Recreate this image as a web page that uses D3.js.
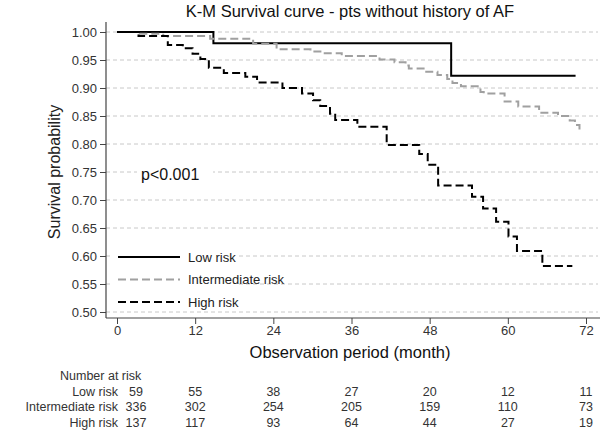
<!DOCTYPE html>
<html>
<head>
<meta charset="utf-8">
<script src="https://cdn.jsdelivr.net/npm/d3@7"></script>
<style>
  body { margin: 0; background: #fff; }
  text { font-family: "Liberation Sans", Arial, sans-serif; }
</style>
</head>
<body>
<div id="chart"></div>
<script>
/* step times (months) and survival values */
const lowTimes = [0, 14.8, 51.3];
const lowSurv = [1.000, 0.980, 0.922];
const lowEnd = 70.4;

const midTimes = [0, 3.5, 7.1, 14.3, 20.9, 24.5, 29.7, 31.6, 34.5, 40.3, 42.6, 44.3, 44.8, 47.3, 49.2,
                  50.7, 51.5, 52.8, 55.8, 56.3, 59.5, 61.6, 64.8, 67.7, 69.5, 70.3, 71.0];
const midSurv = [1.000, 0.997, 0.993, 0.988, 0.979, 0.969, 0.965, 0.962, 0.957, 0.951, 0.946, 0.940, 0.935, 0.929, 0.923,
                 0.916, 0.909, 0.903, 0.893, 0.890, 0.876, 0.867, 0.856, 0.850, 0.842, 0.834, 0.823];
const midEnd = 71.0;

const highTimes = [0, 3.3, 7.8, 10.1, 11.6, 12.8, 14.1, 16.4, 19.7, 21.5, 25.4, 28.4, 30.1, 31.2, 32.7, 33.5,
                   36.9, 41.4, 46.4, 47.7, 49.3, 54.5, 56.2, 58.2, 60.1, 61.4, 65.3];
const highSurv = [1.000, 0.993, 0.977, 0.971, 0.961, 0.952, 0.936, 0.927, 0.920, 0.910, 0.900, 0.890, 0.878, 0.868, 0.854, 0.843,
                  0.831, 0.798, 0.782, 0.763, 0.726, 0.706, 0.685, 0.661, 0.635, 0.609, 0.582];
const highEnd = 69.9;

const groupNames = ["Low risk", "Intermediate risk", "High risk"];
const xTicks = [0, 12, 24, 36, 48, 60, 72];
const yTicks = [0.50, 0.55, 0.60, 0.65, 0.70, 0.75, 0.80, 0.85, 0.90, 0.95, 1.00];

/* number at risk, one row per group, one value per x tick */
const riskLow = [59, 55, 38, 27, 20, 12, 11];
const riskMid = [336, 302, 254, 205, 159, 110, 73];
const riskHigh = [137, 117, 93, 64, 44, 27, 19];

const width = 600, height = 430;
const axisX = 106, axisY = 318;

const x = d3.scaleLinear().domain([0, 72]).range([117, 586]);
const y = d3.scaleLinear().domain([0.5, 1]).range([312, 32]);

const svg = d3.select("#chart").append("svg")
  .attr("width", width)
  .attr("height", height);

/* title */
svg.append("text")
  .attr("x", 350).attr("y", 17)
  .attr("text-anchor", "middle")
  .attr("font-size", 16.5)
  .attr("fill", "#111")
  .text("K-M Survival curve - pts without history of AF");

/* grid */
svg.append("g").selectAll("line").data(yTicks).join("line")
  .attr("x1", axisX).attr("x2", 598)
  .attr("y1", d => y(d)).attr("y2", d => y(d))
  .attr("stroke", "#c8c8c8")
  .attr("stroke-width", 1)
  .attr("stroke-dasharray", "4,3");

/* axes */
const yAxis = svg.append("g")
  .attr("transform", "translate(" + axisX + ",0)")
  .call(d3.axisLeft(y).tickValues(yTicks).tickFormat(d3.format(".2f")).tickSize(6).tickPadding(3));
yAxis.select(".domain").remove();
yAxis.selectAll("text").attr("font-size", 13).attr("fill", "#333").style("font-family", "Liberation Sans, Arial, sans-serif");
yAxis.selectAll("line").attr("stroke", "#444");

const xAxis = svg.append("g")
  .attr("transform", "translate(0," + axisY + ")")
  .call(d3.axisBottom(x).tickValues(xTicks).tickSize(6).tickPadding(2));
xAxis.select(".domain").remove();
xAxis.selectAll("text").attr("font-size", 13).attr("fill", "#333").style("font-family", "Liberation Sans, Arial, sans-serif");
xAxis.selectAll("line").attr("stroke", "#444");

svg.append("line")
  .attr("x1", axisX).attr("x2", axisX)
  .attr("y1", 22).attr("y2", axisY)
  .attr("stroke", "#444").attr("stroke-width", 1.2);
svg.append("line")
  .attr("x1", axisX).attr("x2", 600)
  .attr("y1", axisY).attr("y2", axisY)
  .attr("stroke", "#444").attr("stroke-width", 1.2);

/* axis titles */
svg.append("text")
  .attr("transform", "translate(60,172) rotate(-90)")
  .attr("text-anchor", "middle")
  .attr("font-size", 16)
  .attr("fill", "#222")
  .text("Survival probability");

svg.append("text")
  .attr("x", 350).attr("y", 358)
  .attr("text-anchor", "middle")
  .attr("font-size", 16.5)
  .attr("fill", "#111")
  .text("Observation period (month)");

/* curves */
function stepData(times, surv, end) {
  const pts = times.map((t, i) => [t, surv[i]]);
  pts.push([end, surv[surv.length - 1]]);
  return pts;
}
const line = d3.line()
  .x(d => x(d[0]))
  .y(d => y(d[1]))
  .curve(d3.curveStepAfter);

const series = [
  { data: stepData(lowTimes, lowSurv, lowEnd), color: "#000", dash: null },
  { data: stepData(midTimes, midSurv, midEnd), color: "#a0a0a0", dash: "8,4" },
  { data: stepData(highTimes, highSurv, highEnd), color: "#000", dash: "8,4" }
];

svg.append("g").selectAll("path").data(series).join("path")
  .attr("d", d => line(d.data))
  .attr("fill", "none")
  .attr("stroke", d => d.color)
  .attr("stroke-width", 2)
  .attr("stroke-dasharray", d => d.dash);

/* p value */
svg.append("rect")
  .attr("x", 137).attr("y", 163).attr("width", 76).attr("height", 20)
  .attr("fill", "#fff");
svg.append("text")
  .attr("x", 141).attr("y", 180)
  .attr("font-size", 16)
  .attr("fill", "#111")
  .text("p<0.001");

/* legend */
const legend = svg.append("g");
legend.append("rect")
  .attr("x", 112).attr("y", 246).attr("width", 126).attr("height", 64)
  .attr("fill", "#fff");
legend.selectAll("line").data(series).join("line")
  .attr("x1", 118).attr("x2", 180)
  .attr("y1", (d, i) => 257 + i * 22.5).attr("y2", (d, i) => 257 + i * 22.5)
  .attr("stroke", d => d.color)
  .attr("stroke-width", 2)
  .attr("stroke-dasharray", d => d.dash);
legend.selectAll("text").data(groupNames).join("text")
  .attr("x", 188)
  .attr("y", (d, i) => 261.5 + i * 22.5)
  .attr("font-size", 13)
  .attr("fill", "#222")
  .text(d => d);

/* number at risk table */
svg.append("text")
  .attr("x", 60).attr("y", 380)
  .attr("font-size", 12.5)
  .attr("fill", "#333")
  .text("Number at risk");

const riskRows = [riskLow, riskMid, riskHigh];
const colX = xTicks.map((t, i) => i === 0 ? 136 : x(t));
riskRows.forEach((row, r) => {
  const rowY = 395.5 + r * 15.5;
  svg.append("text")
    .attr("x", 118).attr("y", rowY)
    .attr("text-anchor", "end")
    .attr("font-size", 12.5)
    .attr("fill", "#333")
    .text(groupNames[r]);
  svg.append("g").selectAll("text").data(row).join("text")
    .attr("x", (d, i) => colX[i])
    .attr("y", rowY)
    .attr("text-anchor", "middle")
    .attr("font-size", 12.5)
    .attr("fill", "#333")
    .text(d => d);
});
</script>
</body>
</html>
